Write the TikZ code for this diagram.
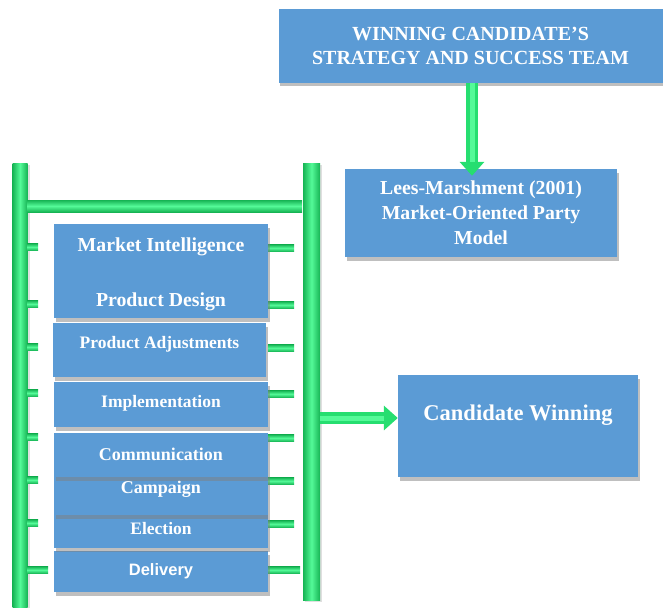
\documentclass[tikz,border=0pt]{standalone}
\usepackage{fontspec}
\setmainfont{Liberation Serif}
\newfontfamily\arialf{Liberation Sans}
\usetikzlibrary{shadows,arrows.meta}
\definecolor{boxblue}{RGB}{91,155,213}
\definecolor{gdark}{RGB}{22,180,84}
\definecolor{glight}{RGB}{84,250,152}
\definecolor{gmid}{RGB}{38,222,112}
\begin{document}
\begin{tikzpicture}[x=1pt,y=-1pt,
  box/.style={draw=none, fill=boxblue, text=white, align=center, inner sep=0pt,
    drop shadow={shadow xshift=1.5pt, shadow yshift=-3.5pt, opacity=0.5}},
  txt/.style={text=white, font=\bfseries\fontsize{#1}{#1}\selectfont, inner sep=0pt},
  vrail/.style={draw=none, left color=gdark, right color=gdark, middle color=glight, inner sep=0pt,
    drop shadow={shadow xshift=2pt, shadow yshift=-2pt, opacity=0.25}},
  hrail/.style={draw=none, top color=gdark, bottom color=gdark, middle color=glight, inner sep=0pt},
  garrow/.style={line width=12pt, gmid, -{Triangle[length=14pt,width=24pt]}},
  ghl/.style={line width=5pt, glight, shorten >=14pt}
]
\useasboundingbox (0,0) rectangle (663,607);

% rails
\node[vrail, minimum width=15pt, minimum height=444pt] (lrail) at (20,385) {};
\node[vrail, minimum width=17pt, minimum height=437pt] (rrail) at (311.5,381.5) {};
\node[hrail, minimum width=275pt, minimum height=12pt] (rung) at (164.5,206) {};

% stubs
\foreach \n/\yy in {s1/247,s2/304,s3/347,s4/393,s5/437,s6/480,s7/523}{
  \node[hrail, minimum width=11pt, minimum height=7pt] (l\n) at (32.5,\yy) {};
  \node[hrail, minimum width=26pt, minimum height=7pt] (r\n) at (281,\yy+1) {};
}
\node[hrail, minimum width=21pt, minimum height=7pt] (ls8) at (37.5,570) {};
\node[hrail, minimum width=32pt, minimum height=7pt] (rs8) at (284,570) {};

% left stack (bottom first so shadows fall on lower boxes)
\node[box, minimum width=214pt, minimum height=41pt,
  label={[text=white, inner sep=0pt, font=\arialf\bfseries\fontsize{16.5}{16.5}\selectfont]center:Delivery}] (deliv) at (161,571.5) {};
\node[box, minimum width=214pt, minimum height=33pt,
  label={[txt=17.5, yshift=3pt]center:Election}] (elect) at (161,531.5) {};
\node[box, minimum width=214pt, minimum height=38pt,
  label={[txt=18, yshift=7pt]center:Campaign}] (camp) at (161,496) {};
\node[box, minimum width=214pt, minimum height=44pt,
  label={[txt=18, yshift=1pt]center:Communication}] (comm) at (161,455) {};
\node[box, minimum width=214pt, minimum height=45pt,
  label={[txt=17.5, yshift=1pt]center:Implementation}] (impl) at (161,404.5) {};
\node[box, minimum width=213pt, minimum height=54pt,
  label={[txt=17.5, yshift=6pt]center:Product Adjustments}] (padj) at (159.5,350) {};
\node[box, minimum width=214pt, minimum height=94pt,
  label={[txt=19.8, yshift=24pt]center:Market Intelligence},
  label={[txt=19.8, yshift=-31pt]center:Product Design}] (mipd) at (161,271) {};

% right boxes
\node[box, minimum width=384pt, minimum height=74pt,
  font=\bfseries\fontsize{20}{24}\selectfont] (team) at (470.5,46)
  {WINNING CANDIDATE’S\\STRATEGY AND SUCCESS TEAM};
\node[box, minimum width=272pt, minimum height=88pt,
  font=\bfseries\fontsize{19.8}{25}\selectfont] (lees) at (481,213)
  {Lees-Marshment (2001)\\Market-Oriented Party\\Model};
\node[box, minimum width=240pt, minimum height=102pt,
  label={[txt=22.5, yshift=11pt]center:Candidate Winning}] (cand) at (518,426) {};

% arrows
\draw[garrow] ([xshift=1.5pt]team.south) -- ([xshift=1.5pt,yshift=-7pt]team.south |- lees.north);
\draw[ghl] ([xshift=1.5pt]team.south) -- ([xshift=1.5pt,yshift=-7pt]team.south |- lees.north);
\draw[garrow] ([yshift=8pt]rrail.east |- cand.west) -- ([yshift=8pt]cand.west);
\draw[ghl] ([yshift=8pt]rrail.east |- cand.west) -- ([yshift=8pt]cand.west);
\end{tikzpicture}
\end{document}
